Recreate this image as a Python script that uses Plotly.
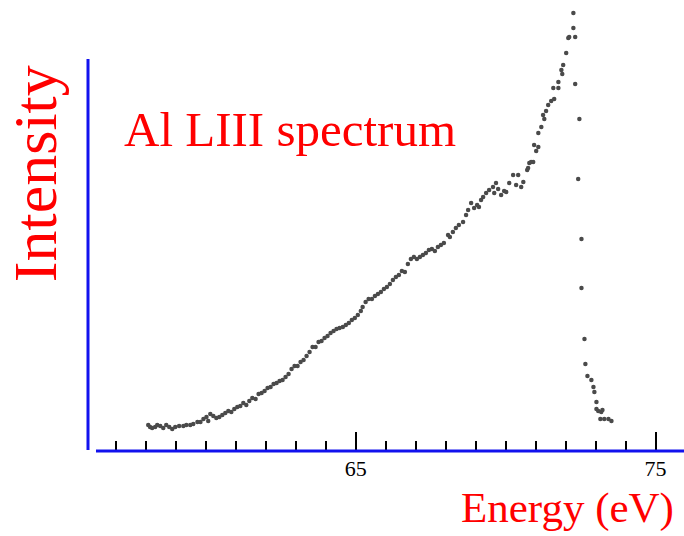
import plotly.graph_objects as go

# Al L-III emission spectrum
energy_rise = [58.08, 58.14, 58.21, 58.31, 58.38, 58.48, 58.58, 58.68, 58.78, 58.88, 58.98, 59.11, 59.25, 59.35,
               59.48, 59.58, 59.72, 59.82, 59.92, 60.02, 60.08, 60.15, 60.25, 60.35, 60.45, 60.55, 60.65, 60.75,
               60.85, 60.95, 61.05, 61.15, 61.25, 61.35, 61.45, 61.55, 61.66, 61.76, 61.86, 61.96, 62.06, 62.16,
               62.26, 62.36, 62.46, 62.56, 62.66, 62.76, 62.86, 62.96, 63.06, 63.16, 63.26, 63.36, 63.46, 63.56,
               63.66, 63.76, 63.86, 63.96, 64.06, 64.16, 64.26, 64.36, 64.46, 64.57, 64.67, 64.77, 64.87, 64.97,
               65.07, 65.17, 65.23, 65.33, 65.43, 65.54, 65.64, 65.74, 65.84, 65.94, 66.04, 66.14, 66.24, 66.34,
               66.44, 66.54, 66.64, 66.74, 66.84, 66.94, 67.04, 67.14, 67.24, 67.34, 67.44, 67.54, 67.64, 67.74,
               67.84, 67.94, 68.08, 68.14, 68.24, 68.34, 68.44, 68.58, 68.68, 68.75, 68.85, 68.95, 69.05, 69.11,
               69.18, 69.25, 69.35, 69.45, 69.58, 69.62, 69.68, 69.75, 69.85, 69.95, 70.02, 70.12, 70.25, 70.35,
               70.42, 70.52, 70.59, 70.72, 70.75, 70.79, 70.85, 70.92, 70.95, 71.02, 71.09, 71.09, 71.19, 71.25,
               71.29, 71.35, 71.42, 71.52, 71.59, 71.62, 71.76, 71.76, 71.86, 71.89, 71.92, 72.02, 72.09, 72.12,
               72.26, 72.26]
intensity_rise = [26, 24, 23, 24, 26, 25, 23, 26, 24, 22, 24, 25, 25, 26,
                  26, 27, 29, 29, 32, 34, 30, 37, 35, 33, 34, 36, 38, 40,
                  39, 42, 44, 45, 48, 46, 50, 53, 52, 57, 58, 60, 63, 64,
                  67, 68, 70, 71, 74, 77, 82, 85, 85, 89, 91, 95, 99, 104,
                  104, 109, 110, 113, 115, 118, 120, 122, 123, 124, 126, 128, 131, 133,
                  136, 140, 144, 149, 152, 152, 155, 157, 159, 162, 164, 167, 171, 174,
                  176, 180, 179, 187, 192, 194, 192, 194, 196, 198, 201, 202, 200, 204,
                  206, 208, 216, 214, 219, 223, 226, 229, 236, 241, 248, 243, 246, 244,
                  251, 254, 258, 261, 264, 258, 268, 262, 256, 260, 259, 268, 276, 266,
                  276, 264, 269, 281, 283, 288, 289, 289, 306, 300, 304, 318, 324, 336,
                  332, 340, 346, 350, 363, 352, 363, 369, 381, 377, 386, 398, 413, 414,
                  423, 438]

energy_edge = [72.32, 72.32, 72.46, 72.42, 72.53, 72.53, 72.63, 72.66, 72.73, 72.86, 72.93, 72.96, 73.03,
               73.03, 73.09, 73.19, 73.23, 73.16, 73.29, 73.43, 73.53]
intensity_edge = [414, 367, 332, 272, 212, 163, 112, 87, 75, 71, 64, 59, 49,
                  42, 40, 39, 41, 32, 32, 32, 30]

x_range = [56.07, 75.95]
y_range = [0, 451]
major_tick0 = 65
major_dtick = 10

title_text = "Al LIII spectrum"
x_title = "Energy (eV)"
y_title = "Intensity"

RED = "#ff0000"
BLUE = "#1212ee"
DOT = "#4a4a4a"
SERIF = "Liberation Serif, Times New Roman, serif"

fig = go.Figure()
for xs, ys in ((energy_rise, intensity_rise), (energy_edge, intensity_edge)):
    fig.add_trace(go.Scatter(
        x=xs, y=ys, mode="markers",
        marker=dict(size=4.5, color=DOT, line=dict(width=0)),
        cliponaxis=False, showlegend=False, hoverinfo="x+y",
    ))

# axis lines (blue), drawn separately so they leave the small corner gap
fig.add_shape(type="line", xref="paper", yref="paper", x0=0, x1=0, y0=0.002, y1=0.869,
              line=dict(color=BLUE, width=3))
fig.add_shape(type="line", xref="paper", yref="paper", x0=0.0134, x1=1.0, y0=0, y1=0,
              line=dict(color=BLUE, width=3))

fig.add_annotation(text=title_text, xref="paper", yref="paper", x=0.057, y=0.712,
                   xanchor="left", yanchor="middle", showarrow=False,
                   font=dict(family=SERIF, size=49, color=RED))
fig.add_annotation(text=y_title, xref="paper", yref="paper", x=-0.089, y=0.616,
                   xanchor="center", yanchor="middle", textangle=-90, showarrow=False,
                   font=dict(family=SERIF, size=62, color=RED))
fig.add_annotation(text=x_title, xref="paper", yref="paper", x=0.8045, y=-0.126,
                   xanchor="center", yanchor="middle", showarrow=False,
                   font=dict(family=SERIF, size=43, color=RED))

fig.update_layout(
    width=684, height=536,
    margin=dict(l=88, r=0, t=0, b=85),
    paper_bgcolor="white", plot_bgcolor="white",
    xaxis=dict(range=x_range, showgrid=False, zeroline=False, showline=False,
               tick0=major_tick0, dtick=major_dtick, ticks="inside", ticklen=19,
               tickwidth=1.5, tickcolor="black", ticklabelstandoff=2,
               tickfont=dict(family=SERIF, size=22, color="black"),
               minor=dict(dtick=1, tick0=0, ticks="inside", ticklen=10, tickwidth=1.5,
                          tickcolor="black", showgrid=False)),
    yaxis=dict(range=y_range, visible=False, showgrid=False, zeroline=False),
)

fig.write_html("out.html", config={"displayModeBar": False},
               post_script="document.body.style.margin='0px';document.body.style.overflow='hidden';")
